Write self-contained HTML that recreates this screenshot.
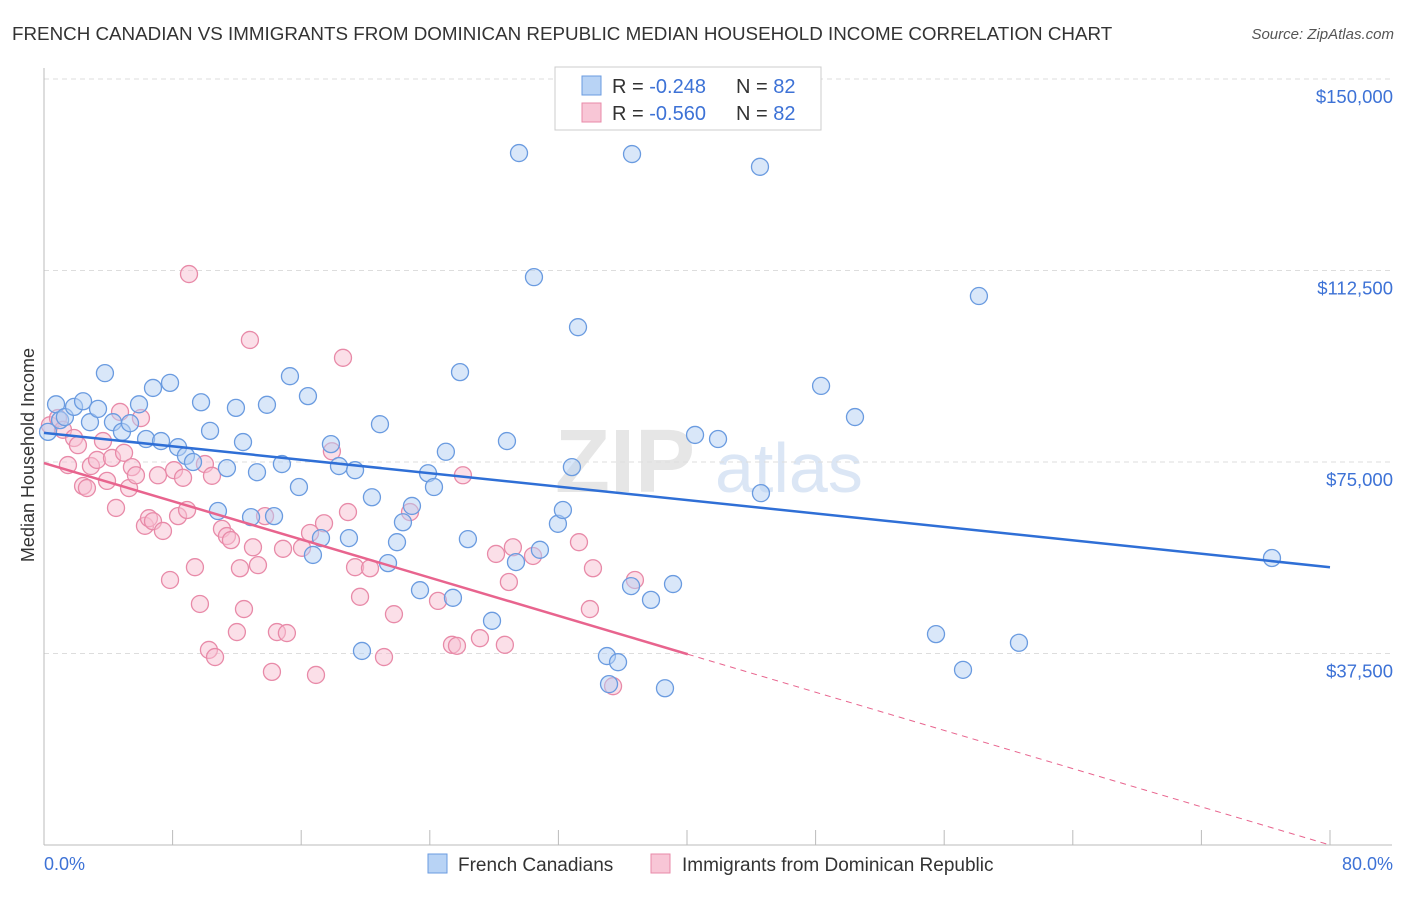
<!DOCTYPE html>
<html><head><meta charset="utf-8"><style>
body{margin:0;background:#fff;font-family:"Liberation Sans",sans-serif;}
svg text{font-family:"Liberation Sans",sans-serif;}
</style></head><body>
<svg id="chart" width="1406" height="892" xmlns="http://www.w3.org/2000/svg">
<text x="12" y="40" font-size="18.8" fill="#333">FRENCH CANADIAN VS IMMIGRANTS FROM DOMINICAN REPUBLIC MEDIAN HOUSEHOLD INCOME CORRELATION CHART</text>
<text x="1394" y="39" font-size="15" fill="#555" font-style="italic" text-anchor="end">Source: ZipAtlas.com</text>
<text x="555" y="492" font-size="90" fill="#e6e6e6" font-family="Liberation Serif" font-weight="bold">ZIP</text>
<text x="715" y="492" font-size="70" fill="#dbe6f5">atlas</text>
<g id="grid"></g>
<g id="axes"></g>
<g id="pinkpts"></g>
<g id="bluepts"></g>
<g id="lines"></g>
<text transform="translate(34,455) rotate(-90)" font-size="18" fill="#333" text-anchor="middle">Median Household Income</text>
<text x="44" y="870" font-size="18" fill="#3d72d6">0.0%</text>
<text x="1393" y="870" font-size="18" fill="#3d72d6" text-anchor="end">80.0%</text>
<g>
<rect x="555" y="67" width="266" height="63" fill="#fff" stroke="#ccc"/>
<rect x="582" y="76" width="19" height="19" fill="#b8d3f5" stroke="#6a9be0"/>
<rect x="582" y="103" width="19" height="19" fill="#f8c6d6" stroke="#e88aa8"/>
<text x="612" y="93" font-size="20" fill="#333">R = <tspan fill="#3d72d6">-0.248</tspan></text>
<text x="736" y="93" font-size="20" fill="#333">N = <tspan fill="#3d72d6">82</tspan></text>
<text x="612" y="120" font-size="20" fill="#333">R = <tspan fill="#3d72d6">-0.560</tspan></text>
<text x="736" y="120" font-size="20" fill="#333">N = <tspan fill="#3d72d6">82</tspan></text>
</g>
<g>
<rect x="428" y="854" width="19" height="19" fill="#b8d3f5" stroke="#6a9be0"/>
<text x="458" y="871" font-size="19" fill="#333">French Canadians</text>
<rect x="651" y="854" width="19" height="19" fill="#f8c6d6" stroke="#e88aa8"/>
<text x="682" y="871" font-size="19" fill="#333">Immigrants from Dominican Republic</text>
</g>
</svg>
<script>
const yTicks=[37500,75000,112500,150000];
const yTickLabels=["$37,500","$75,000","$112,500","$150,000"];
const xTicks=[0,8,16,24,32,40,48,56,64,72,80];
const blueX=[0.25,0.75,1.0,1.3,1.87,2.43,2.86,3.36,3.79,4.29,4.85,5.35,5.91,6.35,6.78,7.28,7.84,8.34,8.83,9.27,9.77,10.33,10.82,11.38,11.94,12.38,12.88,13.25,13.87,14.31,14.8,15.3,15.86,16.42,16.73,17.23,17.85,18.35,18.97,19.35,19.78,20.4,20.9,21.4,21.96,22.33,22.89,23.39,23.89,24.26,25.0,25.44,25.88,26.37,27.87,28.8,29.36,29.55,30.48,30.85,31.97,32.28,32.84,33.22,35.02,35.15,35.71,36.52,36.58,37.76,38.63,39.13,40.5,41.93,44.54,44.6,48.34,50.45,55.49,57.17,58.16,60.65,76.39];
const blueY=[80.9,86.3,83.2,83.8,85.8,86.9,82.8,85.4,92.4,82.8,80.9,82.6,86.3,79.5,89.5,79.1,90.5,77.9,76.2,75.0,86.7,81.1,65.4,73.8,85.6,78.9,64.2,73.0,86.2,64.4,74.6,91.8,70.1,87.9,56.8,60.1,78.5,74.2,60.1,73.4,38.0,68.1,82.4,55.2,59.3,63.2,66.4,49.9,72.8,70.1,77.0,48.4,92.6,59.9,43.9,79.1,55.4,135.5,111.2,57.8,62.9,65.6,74.0,101.4,37.0,31.5,35.8,50.7,135.3,48.0,30.7,51.1,80.3,79.5,132.8,68.9,89.9,83.8,41.3,34.3,107.5,39.6,56.2];
const pinkX=[0.37,0.87,1.18,1.49,1.87,2.11,2.43,2.67,2.92,3.3,3.67,3.92,4.23,4.48,4.73,4.98,5.29,5.47,5.72,6.03,6.28,6.53,6.78,7.09,7.4,7.84,8.09,8.34,8.65,8.9,9.02,9.39,9.7,10.01,10.26,10.45,10.64,11.07,11.38,11.63,12.0,12.19,12.44,12.81,13.0,13.31,13.75,14.18,14.49,14.87,15.11,16.05,16.55,16.92,17.42,17.91,18.6,18.91,19.35,19.66,20.28,21.15,21.77,22.77,24.51,25.38,25.69,26.06,27.12,28.12,28.67,28.92,29.17,30.42,33.28,33.96,34.15,35.4,36.76];
const pinkY=[82.2,83.6,81.3,74.4,79.7,78.3,70.3,69.9,74.2,75.4,79.1,71.3,75.8,66.0,84.8,76.8,69.9,74.0,72.4,83.6,62.5,64.0,63.4,72.4,61.5,51.9,73.4,64.4,71.9,65.6,111.8,54.4,47.2,74.6,38.2,72.3,36.8,61.9,60.5,59.7,41.7,54.2,46.2,98.9,58.3,54.8,64.4,33.9,41.7,58.0,41.5,58.2,61.1,33.3,63.0,77.1,95.4,65.2,54.4,48.6,54.2,36.8,45.2,65.2,47.8,39.2,39.0,72.4,40.5,57.0,39.2,51.5,58.3,56.6,59.3,46.2,54.2,31.1,51.9];
const blueTrend=[80.7,54.4];
const pinkTrend=[74.8,0.0];
const pinkSolidEnd=40.05;
const NS="http://www.w3.org/2000/svg";
const xs=v=>44+v/80*1286;
const ys=v=>845-v*1000/37500*191.5;
function mk(tag,attrs,parent){const e=document.createElementNS(NS,tag);for(const k in attrs)e.setAttribute(k,attrs[k]);parent.appendChild(e);return e;}
const grid=document.getElementById('grid'),axes=document.getElementById('axes');
yTicks.forEach((t,i)=>{
 const l=mk('line',{x1:44,x2:1392,y1:ys(t/1000),y2:ys(t/1000),stroke:'#dddddd','stroke-dasharray':'5,4'},grid);
 
 
 const tx=mk('text',{x:1393,y:ys(t/1000)+24,'font-size':18.5,fill:'#3d72d6','text-anchor':'end'},grid);
 tx.textContent=yTickLabels[i];
 
 
});
const tl=mk('line',{x1:44,x2:1392,y1:79,y2:79,stroke:'#dddddd','stroke-dasharray':'5,4'},grid);


const ya=mk('line',{x1:44,x2:44,y1:68,y2:845,stroke:'#bbb'},axes);


const xa=mk('line',{x1:44,x2:1392,y1:845,y2:845,stroke:'#bbb'},axes);


xTicks.forEach(t=>{
 const k=mk('line',{x1:xs(t),x2:xs(t),y1:830,y2:845,stroke:'#bbb'},axes);
 
 
});
function pts(X,Y,g,fill,stroke,name){
 X.forEach((x,i)=>{
  const c=mk('circle',{cx:xs(x),cy:ys(Y[i]),r:8.5,fill:fill,'fill-opacity':0.5,stroke:stroke,'stroke-width':1.3},g);
  
  
 });
}
pts(pinkX,pinkY,document.getElementById('pinkpts'),'#f8bfd2','#e88aa8','dominican-point');
pts(blueX,blueY,document.getElementById('bluepts'),'#b3cff3','#6a9be0','french-canadian-point');
const lines=document.getElementById('lines');
const bl=mk('line',{x1:xs(0),y1:ys(blueTrend[0]),x2:xs(80),y2:ys(blueTrend[1]),stroke:'#2f6fd6','stroke-width':2.5},lines);


const py=x=>pinkTrend[0]+(pinkTrend[1]-pinkTrend[0])*x/80;
const pl=mk('line',{x1:xs(0),y1:ys(py(0)),x2:xs(pinkSolidEnd),y2:ys(py(pinkSolidEnd)),stroke:'#e8648e','stroke-width':2.5},lines);


const pd=mk('line',{x1:xs(pinkSolidEnd),y1:ys(py(pinkSolidEnd)),x2:xs(80),y2:ys(py(80)),stroke:'#e8648e','stroke-width':1,'stroke-dasharray':'6,5'},lines);


</script>
</body></html>
